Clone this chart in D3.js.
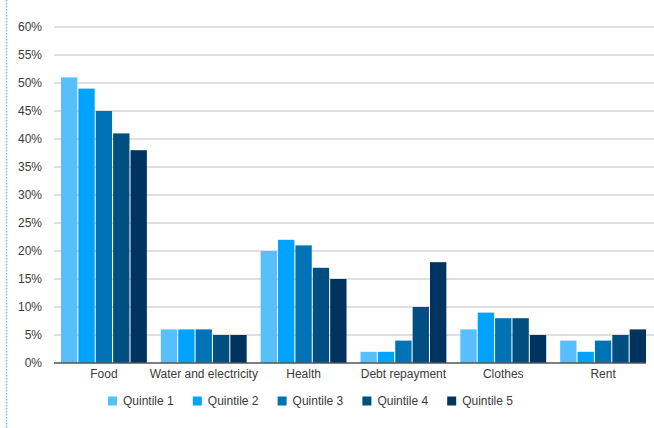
<!DOCTYPE html>
<html>
<head>
<meta charset="utf-8">
<script src="https://cdn.jsdelivr.net/npm/d3@7"></script>
<style>
  html, body { margin: 0; padding: 0; background: #fff; }
  svg { display: block; font-family: "Liberation Sans", Arial, sans-serif; }
</style>
</head>
<body>
<svg id="chart" width="654" height="428"></svg>
<script>
// Share of spending by category, per income quintile (%)
const categories = ["Food", "Water and electricity", "Health", "Debt repayment", "Clothes", "Rent"];
const quintiles = ["Quintile 1", "Quintile 2", "Quintile 3", "Quintile 4", "Quintile 5"];
const quintile1 = [51, 6, 20, 2, 6, 4];
const quintile2 = [49, 6, 22, 2, 9, 2];
const quintile3 = [45, 6, 21, 4, 8, 4];
const quintile4 = [41, 5, 17, 10, 8, 5];
const quintile5 = [38, 5, 15, 18, 5, 6];
const seriesValues = [quintile1, quintile2, quintile3, quintile4, quintile5];
const yTicks = [0, 5, 10, 15, 20, 25, 30, 35, 40, 45, 50, 55, 60];
const colors = ["#58bffd", "#00a3ff", "#0073b6", "#004f80", "#00335e"];

const svg = d3.select("#chart");
const W = 654, H = 428;
const plot = { left: 54, right: 653, top: 27, bottom: 363 };

// Decorative dotted rule along the left edge
svg.append("line")
  .attr("x1", 6.5).attr("x2", 6.5).attr("y1", 0).attr("y2", H)
  .attr("stroke", "#5cc3f0").attr("stroke-width", 1.5)
  .attr("stroke-dasharray", "1.5,1.5");

const x0 = d3.scaleBand().domain(categories).range([plot.left, plot.right]).paddingInner(0.14).paddingOuter(0.07);
const x1 = d3.scaleBand().domain(quintiles).range([0, x0.bandwidth()]).paddingInner(0.06);
const y = d3.scaleLinear().domain([0, 60]).range([plot.bottom, plot.top]);

// Horizontal gridlines
svg.append("g")
  .selectAll("line")
  .data(yTicks.filter(d => d > 0))
  .join("line")
  .attr("x1", plot.left).attr("x2", W)
  .attr("y1", d => y(d)).attr("y2", d => y(d))
  .attr("stroke", "#d6d6d6").attr("stroke-width", 1.5);

// Y axis labels
const yAxis = d3.axisLeft(y).tickValues(yTicks).tickFormat(d => d + "%").tickSize(0).tickPadding(0);
const gy = svg.append("g").attr("transform", `translate(${plot.left - 12},0)`).call(yAxis);
gy.select(".domain").remove();
gy.selectAll("text").attr("fill", "#3a3a3a").style("font-size", "12px");

// Bars
const groups = svg.append("g")
  .selectAll("g")
  .data(categories)
  .join("g")
  .attr("transform", d => `translate(${x0(d)},0)`);

groups.selectAll("rect")
  .data((c, i) => quintiles.map((q, k) => ({ q, k, v: seriesValues[k][i] })))
  .join("rect")
  .attr("x", d => x1(d.q))
  .attr("width", x1.bandwidth())
  .attr("y", d => y(d.v))
  .attr("height", d => y(0) - y(d.v))
  .attr("fill", d => colors[d.k]);

// Baseline and category labels
const xAxis = d3.axisBottom(x0).tickSize(0).tickPadding(6);
const gx = svg.append("g").attr("transform", `translate(0,${plot.bottom})`).call(xAxis);
gx.select(".domain").attr("stroke", "#555").attr("stroke-width", 1.5)
  .attr("d", `M${plot.left},0H${plot.right - 7}`);
gx.selectAll("text").attr("fill", "#3a3a3a").style("font-size", "12px");

// Legend
const legend = svg.append("g").attr("transform", "translate(108,401)");
const item = legend.selectAll("g")
  .data(quintiles)
  .join("g")
  .attr("transform", (d, i) => `translate(${i * 84.8},0)`);
item.append("rect")
  .attr("x", 0).attr("y", -4.5).attr("width", 9).attr("height", 9)
  .attr("fill", (d, i) => colors[i]);
item.append("text")
  .attr("x", 15).attr("y", 0).attr("dy", "0.35em")
  .attr("fill", "#3a3a3a").style("font-size", "12px")
  .text(d => d);
</script>
</body>
</html>
